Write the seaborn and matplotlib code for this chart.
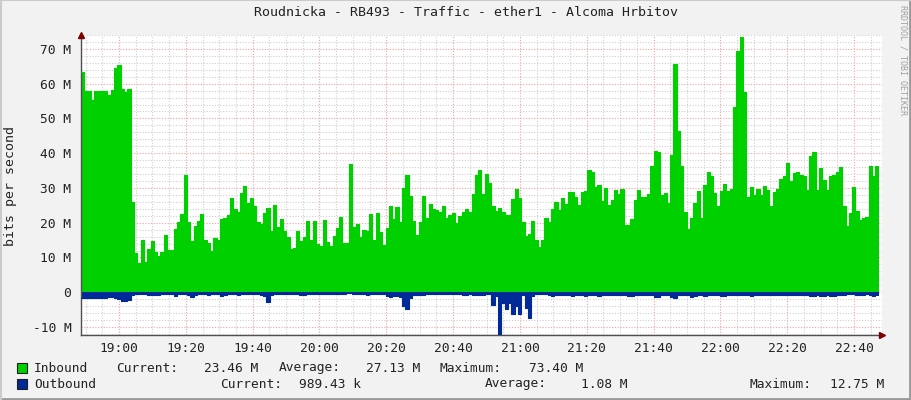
import matplotlib as mpl
mpl.use('Agg')

import numpy as np
import pandas as pd
import seaborn as sns
import matplotlib.pyplot as plt
from matplotlib.lines import Line2D
from matplotlib.patches import Rectangle

# traffic samples, ~1 min step, in Mbit/s (18:48 .. 22:47)
inbound = [
    63.4, 58.0, 58.0, 55.2, 58.0, 58.0, 58.0, 58.0, 56.6, 58.3,
    64.5, 65.5, 58.5, 57.5, 58.5, 26.1, 11.4, 8.5, 15.1, 8.8,
    12.5, 14.8, 11.7, 10.5, 11.7, 16.5, 12.2, 12.2, 18.2, 20.2,
    22.6, 33.8, 20.1, 14.6, 19.1,
    20.5, 22.6, 14.9, 14.1, 12.0, 15.5, 14.9, 21.1, 21.3, 22.3,
    27.1, 24.0, 23.2, 28.5, 30.6, 25.8, 27.1, 24.9, 20.2, 19.7,
    22.7, 24.2, 17.5, 25.1, 18.9, 21.1, 17.5, 15.8, 12.5, 12.7,
    17.7, 14.8, 15.8, 20.5, 14.9,
    20.5, 13.9, 13.3, 20.8, 14.4, 13.3, 16.3, 18.4, 21.6, 14.1,
    14.1, 36.9, 18.7, 19.7, 15.8, 17.9, 17.7, 22.6, 14.9, 22.9,
    17.2, 13.6, 18.6, 24.9, 21.1, 24.6, 20.3, 30.1, 33.7, 27.8,
    20.5, 16.5, 20.2, 27.8,
    21.5, 25.4, 24.0, 23.7, 23.2, 24.9, 21.5, 22.1, 22.7, 19.9,
    21.8, 23.2, 24.0, 23.2, 28.3, 33.6, 35.2, 28.3, 34.1, 31.4,
    24.9, 23.4, 24.2, 23.2, 22.3, 22.3, 26.8, 29.8, 27.1, 20.2,
    16.2, 16.7, 20.5, 14.9, 13.1, 14.9, 21.3,
    20.2, 24.0, 25.9, 23.7, 27.1, 25.4, 28.8, 28.8, 27.5, 25.1,
    28.8, 29.0, 35.2, 34.5, 30.4, 30.9, 26.3, 29.9, 25.1, 26.4,
    29.5, 28.3, 29.7, 19.2, 19.2, 21.1, 26.6, 29.5, 27.3, 27.3,
    28.3, 36.2, 40.7, 40.3,
    28.0, 28.5, 25.8, 39.5, 65.7, 46.4, 36.2, 23.2, 18.2, 21.5,
    25.8, 29.2, 21.5, 30.9, 34.5, 33.3, 28.5, 24.9, 29.2, 31.1,
    29.0, 29.8, 53.2, 69.5, 73.4, 57.5, 27.5, 30.2, 28.0, 29.7,
    28.0, 30.6, 29.5, 24.7, 28.8,
    29.8, 32.6, 33.3, 37.1, 32.1, 34.3, 34.5, 33.8, 33.3, 29.5,
    39.3, 40.3, 29.5, 35.7, 32.3, 29.5, 33.3, 33.6, 34.5, 36.1,
    24.7, 19.1, 22.9, 30.4, 23.4, 20.8, 21.5, 21.6, 36.4, 33.3,
    36.2,
]

# outbound drawn below zero
outbound = [
    -1.8, -1.7, -1.6, -1.7, -1.8, -1.6, -1.7, -1.7, -1.5, -1.5,
    -1.6, -1.9, -2.4, -2.4, -2.3, -0.8, -0.6, -0.5, -0.6, -0.5,
    -0.7, -0.9, -0.7, -0.8, -0.6, -0.6, -0.6, -0.6, -1.0, -0.6,
    -0.6, -0.6, -0.7, -1.5, -0.7,
    -0.6, -0.6, -0.6, -0.7, -0.6, -0.6, -0.6, -1.0, -0.9, -0.6,
    -0.6, -0.6, -0.8, -0.6, -0.6, -0.6, -0.6, -0.6, -0.6, -0.7,
    -1.2, -2.7, -0.9, -0.6, -0.6, -0.6, -0.6, -0.6, -0.6, -0.6,
    -0.6, -0.8, -0.8, -0.6, -0.6,
    -0.6, -0.6, -0.6, -0.6, -0.6, -0.6, -0.6, -0.6, -0.6, -0.6,
    -0.2, -0.2, -0.6, -0.6, -0.6, -0.6, -0.7, -0.6, -0.6, -0.6,
    -0.6, -0.6, -1.2, -1.3, -1.2, -1.2, -1.3, -4.1, -4.9, -1.7,
    -0.9, -0.8, -0.8, -0.7,
    -0.6, -0.6, -0.6, -0.6, -0.6, -0.6, -0.6, -0.6, -0.6, -0.6,
    -0.6, -0.8, -0.9, -0.6, -0.9, -0.8, -0.7, -0.8, -0.6, -0.6,
    -3.8, -1.0, -12.75, -3.2, -4.9, -3.0, -6.3, -4.1, -6.3, -0.8,
    -4.6, -7.5, -1.2, -0.6, -0.6, -0.6, -0.6,
    -0.7, -1.0, -0.7, -0.7, -0.9, -0.7, -0.7, -1.0, -0.7, -0.7,
    -0.7, -1.2, -0.7, -0.7, -0.7, -1.2, -0.7, -0.7, -0.7, -0.7,
    -0.7, -0.7, -0.7, -0.7, -1.1, -1.2, -0.7, -0.7, -0.7, -0.7,
    -0.7, -0.7, -1.4, -1.4,
    -0.8, -0.8, -0.8, -1.4, -1.7, -0.8, -0.8, -0.8, -0.8, -1.3,
    -1.2, -0.8, -0.8, -1.0, -0.8, -0.8, -0.8, -0.8, -1.2, -1.2,
    -0.8, -0.8, -0.8, -0.8, -0.9, -0.8, -0.8, -1.1, -0.8, -0.8,
    -0.8, -0.8, -0.8, -0.8, -0.8,
    -0.8, -0.8, -0.8, -0.8, -0.8, -0.8, -0.8, -0.8, -0.8, -0.8,
    -1.1, -1.1, -0.8, -1.1, -1.0, -0.8, -1.1, -1.1, -0.8, -0.8,
    -0.8, -0.5, -0.4, -0.5, -0.8, -0.8, -0.8, -0.5, -0.8, -1.1,
    -1.1,
]

# minutes relative to 19:00
t_start = -11.4
t_end = 227.4
tick_minutes = [0, 20, 40, 60, 80, 100, 120, 140, 160, 180, 200, 220]
tick_labels = ["19:00", "19:20", "19:40", "20:00", "20:20", "20:40",
               "21:00", "21:20", "21:40", "22:00", "22:20", "22:40"]
y_ticks = [-10, 0, 10, 20, 30, 40, 50, 60, 70]
y_labels = ["-10 M", "0", "10 M", "20 M", "30 M", "40 M", "50 M", "60 M", "70 M"]

title = "Roudnicka - RB493 - Traffic - ether1 - Alcoma Hrbitov"
legend_in = ["Inbound", "Current:", "23.46 M", "Average:", "27.13 M", "Maximum:", "73.40 M"]
legend_out = ["Outbound", "Current:", "989.43 k", "Average:", "1.08 M", "Maximum:", "12.75 M"]

GREEN = "#00CF00"
BLUE = "#002A97"

n = len(inbound)
minutes = np.linspace(t_start, t_end, n + 1)[:-1]
df = pd.DataFrame({"t": minutes, "inbound": inbound, "outbound": outbound})

sns.set_theme(style="white")
plt.rcParams['font.family'] = ['DejaVu Sans Mono', 'DejaVu Sans']

W, H = 911, 400
fig = plt.figure(figsize=(W / 100, H / 100), dpi=100, facecolor="#F2F2F2")
ax = fig.add_axes([81 / W, 1 - 335 / H, (882 - 81) / W, (335 - 35) / H])
ax.set_facecolor("white")

# step areas
tt = np.append(df["t"].values, t_end)
ax.fill_between(tt, np.append(df["inbound"].values, inbound[-1]), 0,
                step="post", color=GREEN, lw=0, zorder=2)
ax.fill_between(tt, np.append(df["outbound"].values, outbound[-1]), 0,
                step="post", color=BLUE, lw=0, zorder=2)
sns.lineplot(data=df, x="t", y="inbound", drawstyle="steps-post",
             color=GREEN, lw=0.8, ax=ax, zorder=3)
sns.lineplot(data=df, x="t", y="outbound", drawstyle="steps-post",
             color=BLUE, lw=0.8, ax=ax, zorder=3)

ax.set_xlim(t_start, 228.4)
ax.set_ylim(-12.3, 74.0)

ax.set_xticks(tick_minutes)
ax.set_xticklabels(tick_labels)
ax.set_xticks(np.arange(-10, 228, 5), minor=True)
ax.set_yticks(y_ticks)
ax.set_yticklabels(y_labels)
ax.set_yticks(np.arange(-12, 74.1, 2), minor=True)

ax.grid(which="minor", color="#CFCFCF", ls=(0, (1, 1.5)), lw=0.8, zorder=0)
ax.grid(which="major", color="#F4A0A0", ls=(0, (1, 1.5)), lw=0.8, zorder=1)
ax.set_axisbelow(True)

for s in ["top", "right"]:
    ax.spines[s].set_visible(False)
for s in ["left", "bottom"]:
    ax.spines[s].set_color("#505050")
    ax.spines[s].set_linewidth(1.0)

ax.tick_params(axis="both", which="both", length=2, width=0.8, colors="#505050",
               direction="inout", labelcolor="#222222", labelsize=9.3)
ax.tick_params(axis="y", which="major", pad=6)
ax.tick_params(axis="x", which="major", pad=4)
ax.set_xlabel("")
ax.set_ylabel("")

# axis arrows
ax.plot([0], [1.0], marker="^", color="#7F0000", ms=5, transform=ax.transAxes,
        clip_on=False, zorder=5)
ax.plot([1.0], [0], marker=">", color="#7F0000", ms=5, transform=ax.transAxes,
        clip_on=False, zorder=5)

fig.text(466 / W, 1 - 12 / H, title, ha="center", va="center", fontsize=9.5, color="#222222")
fig.text(11 / W, 1 - 186 / H, "bits per second", rotation=90, ha="center", va="center",
         fontsize=9.5, color="#222222")
fig.text(903 / W, 1 - 5 / H, "RRDTOOL / TOBI OETIKER", rotation=270, ha="center", va="top",
         fontsize=6, color="#A0A0A0")

# legend rows
x_in = [34, 116, 204, 279, 366, 440, 529]
x_out = [34, 220, 299, 485, 581, 750, 830]
for txt, x in zip(legend_in, x_in):
    fig.text(x / W, 1 - 368 / H, txt, ha="left", va="center", fontsize=9.3, color="#222222")
for txt, x in zip(legend_out, x_out):
    fig.text(x / W, 1 - 384 / H, txt, ha="left", va="center", fontsize=9.3, color="#222222")
fig.add_artist(Rectangle((17 / W, 1 - 373 / H), 10 / W, 10 / H, transform=fig.transFigure,
                         facecolor=GREEN, edgecolor="#202020", lw=0.8))
fig.add_artist(Rectangle((17 / W, 1 - 389 / H), 10 / W, 10 / H, transform=fig.transFigure,
                         facecolor=BLUE, edgecolor="#202020", lw=0.8))

# frame shading
fig.add_artist(Line2D([0, 1], [0.002, 0.002], color="#999999", lw=2, transform=fig.transFigure))
fig.add_artist(Line2D([0.999, 0.999], [0, 1], color="#999999", lw=2, transform=fig.transFigure))
fig.add_artist(Line2D([0, 1], [0.999, 0.999], color="#CBCBCB", lw=1.5, transform=fig.transFigure))
fig.add_artist(Line2D([0.001, 0.001], [0, 1], color="#CBCBCB", lw=1.5, transform=fig.transFigure))

fig.savefig("out.png", dpi=100, facecolor=fig.get_facecolor())
